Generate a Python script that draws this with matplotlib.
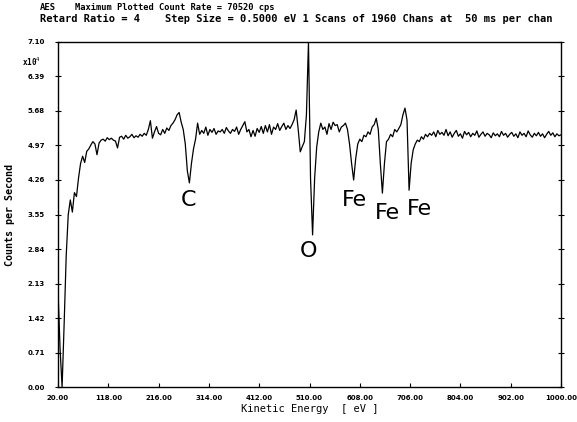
import numpy as np
import matplotlib
matplotlib.use('Agg')
import matplotlib.pyplot as plt

# kinetic energy grid (eV), one reading every 4 eV
e_start, e_step = 20, 4

# counts per second (x10^4)
counts = [
    2.00, 0.80, 0.00, 1.30, 2.70, 3.55, 3.85, 3.60, 4.00, 3.92,  # 20-56
    4.30, 4.60, 4.75, 4.62, 4.85, 4.90, 4.98, 5.05, 5.00, 4.78,  # 60-96
    5.02, 5.08, 5.10, 5.06, 5.13, 5.09, 5.12, 5.08, 5.06, 4.92,  # 100-136
    5.14, 5.16, 5.10, 5.18, 5.12, 5.15, 5.20, 5.13, 5.17, 5.14,  # 140-176
    5.20, 5.16, 5.22, 5.18, 5.30, 5.48, 5.12, 5.25, 5.36, 5.22,  # 180-216
    5.19, 5.30, 5.22, 5.33, 5.28, 5.38, 5.43, 5.50, 5.60, 5.65,  # 220-256
    5.45, 5.30, 5.00, 4.45, 4.20, 4.60, 4.90, 5.10, 5.43, 5.20,  # 260-296
    5.28, 5.22, 5.35, 5.18, 5.30, 5.24, 5.32, 5.20, 5.27, 5.25,  # 300-336
    5.30, 5.22, 5.34, 5.27, 5.22, 5.30, 5.26, 5.35, 5.20, 5.30,  # 340-376
    5.38, 5.46, 5.25, 5.30, 5.15, 5.28, 5.16, 5.32, 5.24, 5.36,  # 380-416
    5.22, 5.38, 5.25, 5.40, 5.20, 5.35, 5.30, 5.42, 5.28, 5.36,  # 420-456
    5.43, 5.30, 5.38, 5.32, 5.40, 5.50, 5.70, 5.30, 4.84, 4.95,  # 460-496
    5.05, 5.60, 7.10, 4.30, 3.13, 4.30, 4.94, 5.25, 5.43, 5.30,  # 500-536
    5.35, 5.20, 5.42, 5.30, 5.45, 5.38, 5.40, 5.25, 5.35, 5.38,  # 540-576
    5.43, 5.30, 5.00, 4.60, 4.26, 4.70, 5.00, 5.10, 5.05, 5.18,  # 580-616
    5.15, 5.25, 5.20, 5.35, 5.40, 5.53, 5.30, 4.60, 3.99, 4.60,  # 620-656
    5.05, 5.10, 5.20, 5.15, 5.30, 5.25, 5.32, 5.40, 5.60, 5.74,  # 660-696
    5.49, 4.05, 4.60, 4.88, 5.00, 5.08, 5.05, 5.15, 5.10, 5.20,  # 700-736
    5.15, 5.22, 5.18, 5.25, 5.15, 5.28, 5.20, 5.24, 5.18, 5.30,  # 740-776
    5.17, 5.25, 5.14, 5.22, 5.28, 5.16, 5.21, 5.12, 5.26, 5.19,  # 780-816
    5.24, 5.15, 5.22, 5.18, 5.27, 5.14, 5.20, 5.25, 5.16, 5.22,  # 820-856
    5.19, 5.13, 5.23, 5.17, 5.21, 5.15, 5.26, 5.18, 5.22, 5.14,  # 860-896
    5.20, 5.24, 5.16, 5.21, 5.13, 5.25, 5.18, 5.22, 5.15, 5.27,  # 900-936
    5.19, 5.14, 5.22, 5.17, 5.24, 5.16, 5.21, 5.13, 5.20, 5.26,  # 940-976
    5.18, 5.23, 5.15, 5.21, 5.17, 5.19,                          # 980-1000
]

peak_names = ['C', 'O', 'Fe', 'Fe', 'Fe']
peak_x = [275, 509, 597, 661, 725]
peak_y = [3.85, 2.80, 3.85, 3.58, 3.66]

x_ticks = [20, 118, 216, 314, 412, 510, 608, 706, 804, 902, 1000]
y_ticks = [0.00, 0.71, 1.42, 2.13, 2.84, 3.55, 4.26, 4.97, 5.68, 6.39, 7.10]

energy = e_start + e_step * np.arange(len(counts))

fig = plt.figure(figsize=(5.77, 4.22), dpi=100)
ax = fig.add_axes([0.1005, 0.0829, 0.8718, 0.8176])

ax.plot(energy, counts, color='black', lw=0.9)

for name, x, y in zip(peak_names, peak_x, peak_y):
    ax.text(x, y, name, fontsize=16, ha='center', va='center',
            family='DejaVu Sans', color='black')

ax.set_xlim(20, 1000)
ax.set_ylim(0, 7.10)
ax.set_xticks(x_ticks)
ax.set_yticks(y_ticks)
ax.set_xticklabels([f'{v:.2f}' for v in x_ticks])
ax.set_yticklabels([f'{v:.2f}' for v in y_ticks])

for lab in ax.get_xticklabels() + ax.get_yticklabels():
    lab.set_fontfamily(['Liberation Sans Narrow', 'DejaVu Sans'])
    lab.set_fontweight('bold')
    lab.set_fontsize(5)

ax.tick_params(axis='y', direction='inout', length=5, width=0.8, pad=7,
               right=True)
ax.tick_params(axis='x', direction='in', length=3, width=0.8, pad=6, top=False)
for s in ax.spines.values():
    s.set_linewidth(1.0)

mono = 'DejaVu Sans Mono'
ax.set_xlabel('Kinetic Energy  [ eV ]', family=mono, fontsize=7.5, labelpad=2)
ax.set_ylabel('Counts per Second', family=mono, fontsize=7.2, weight='bold', labelpad=9)

fig.text(40 / 577, 1 - 8 / 422, 'AES', family=mono, fontsize=6.4,
         weight='bold', va='center')
fig.text(75 / 577, 1 - 8 / 422, 'Maximum Plotted Count Rate = 70520 cps',
         family=mono, fontsize=6.3, weight='bold', va='center')
fig.text(40 / 577, 1 - 19 / 422,
         'Retard Ratio = 4    Step Size = 0.5000 eV 1 Scans of 1960 Chans at  50 ms per chan',
         family=mono, fontsize=7.5, weight='bold', va='center')
fig.text(22 / 577, 1 - 62 / 422, r'x10$^4$', family=mono, fontsize=5.5,
         weight='bold', va='center')

fig.savefig('out.png', dpi=100)
